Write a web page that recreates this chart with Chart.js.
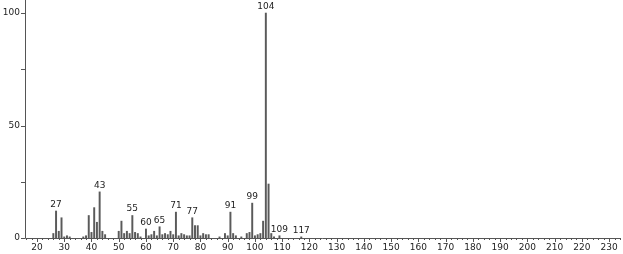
<!DOCTYPE html>
<html>
<head>
<meta charset="utf-8">
<script src="https://cdn.jsdelivr.net/npm/chart.js@4"></script>
<style>
  html, body { margin: 0; padding: 0; background: #fff; }
  #wrap { width: 623px; height: 254px; }
</style>
</head>
<body>
<div id="wrap"><canvas id="msChart"></canvas></div>
<script>
// m/z values and relative intensities
var mz = [26, 27, 28, 29, 30, 31, 32, 37, 38, 39, 40, 41, 42, 43, 44, 45,
          50, 51, 52, 53, 54, 55, 56, 57, 58, 60, 61, 62, 63, 64, 65, 66, 67, 68, 69, 70,
          71, 72, 73, 74, 75, 76, 77, 78, 79, 80, 81, 82, 83,
          87, 89, 90, 91, 92, 93, 95, 97, 98, 99, 100, 101, 102, 103, 104, 105, 106, 107, 109, 117];
var intensity = [2, 12, 3, 9, 0.5, 1, 0.5, 0.5, 1, 10, 2.5, 13.5, 7, 20.5, 3, 1.5,
                 3, 7.5, 2, 3, 2, 10, 2.5, 2, 0.5, 4, 1, 1.5, 3, 1, 5, 1.5, 2, 1.5, 3, 1.5,
                 11.5, 1, 2, 1.5, 1, 1, 9, 5.5, 5.5, 1, 2, 1.5, 1.5,
                 0.5, 2, 1, 11.5, 2, 1, 0.5, 2, 2.5, 15.5, 1, 1.5, 2, 7.5, 100, 24, 2, 0.5, 1, 0.5];
var peakLabels = [27, 43, 55, 60, 65, 71, 77, 91, 99, 104, 109, 117];
var xTickLabels = [20, 30, 40, 50, 60, 70, 80, 90, 100, 110, 120, 130, 140, 150, 160,
                   170, 180, 190, 200, 210, 220, 230];
var yTickLabels = [0, 50, 100];

var points = [];
for (var i = 0; i < mz.length; i++) {
  points.push({ x: mz[i], y: intensity[i] });
}

var fontFace = "'DejaVu Sans', sans-serif";

// axis lines, tick marks and peak labels
var spectrumDecor = {
  id: "spectrumDecor",
  afterDraw: function (chart) {
    var ctx = chart.ctx;
    var xs = chart.scales.x, ys = chart.scales.y;
    var area = chart.chartArea;
    ctx.save();
    ctx.strokeStyle = "#555";
    ctx.lineWidth = 1;
    ctx.beginPath();
    ctx.moveTo(area.left + 0.5, area.top);
    ctx.lineTo(area.left + 0.5, area.bottom + 0.5);
    ctx.lineTo(area.right, area.bottom + 0.5);
    ctx.stroke();

    // x ticks: major every 10, minor every 2
    ctx.beginPath();
    for (var v = 16; v <= 234; v += 2) {
      var px = Math.round(xs.getPixelForValue(v)) + 0.5;
      var len = (v % 10 === 0) ? 4 : 2;
      ctx.moveTo(px, area.bottom);
      ctx.lineTo(px, area.bottom + len);
    }
    // y ticks every 25
    for (var t = 0; t <= 100; t += 25) {
      var py = Math.round(ys.getPixelForValue(t)) + 0.5;
      ctx.moveTo(area.left - 4, py);
      ctx.lineTo(area.left, py);
    }
    ctx.stroke();

    // peak labels
    ctx.fillStyle = "#222";
    ctx.font = "9px " + fontFace;
    ctx.textAlign = "center";
    ctx.textBaseline = "bottom";
    peakLabels.forEach(function (m) {
      var idx = mz.indexOf(m);
      var px = xs.getPixelForValue(m);
      var py = ys.getPixelForValue(intensity[idx]);
      ctx.fillText(String(m), px, py - 2);
    });
    ctx.restore();
  }
};

var ctxS = document.getElementById("msChart").getContext("2d");
var msChart = new Chart(ctxS, {
  type: "bar",
  data: {
    datasets: [
      {
        label: "intensity",
        data: points,
        backgroundColor: "#5a5a5a",
        borderWidth: 0,
        barThickness: 1.3,
      },
    ],
  },
  options: {
    responsive: true,
    maintainAspectRatio: false,
    animation: false,
    layout: { padding: { left: 0, right: 3, top: 0, bottom: 0 } },
    plugins: {
      legend: { display: false },
      tooltip: { enabled: false },
    },
    scales: {
      x: {
        type: "linear",
        offset: false,
        min: 15.6,
        max: 234,
        grid: { display: false, drawTicks: false, offset: false },
        border: { display: false },
        afterFit: function (scale) {
          scale.height = 16;
          scale.paddingLeft = 0;
          scale.paddingRight = 0;
        },
        ticks: {
          includeBounds: false,
          stepSize: 10,
          autoSkip: false,
          maxRotation: 0,
          padding: 4,
          color: "#222",
          font: { family: fontFace, size: 9 },
          callback: function (v) { return xTickLabels.indexOf(v) >= 0 ? String(v) : ""; },
        },
      },
      y: {
        min: 0,
        max: 105.8,
        grid: { display: false, drawTicks: false },
        border: { display: false },
        afterFit: function (scale) {
          scale.width = 25;
          scale.paddingTop = 0;
          scale.paddingBottom = 0;
        },
        ticks: {
          includeBounds: false,
          stepSize: 50,
          padding: 5,
          color: "#222",
          font: { family: fontFace, size: 9 },
          callback: function (v) { return yTickLabels.indexOf(v) >= 0 ? String(v) : ""; },
        },
      },
    },
  },
  plugins: [spectrumDecor],
});
</script>
</body>
</html>
